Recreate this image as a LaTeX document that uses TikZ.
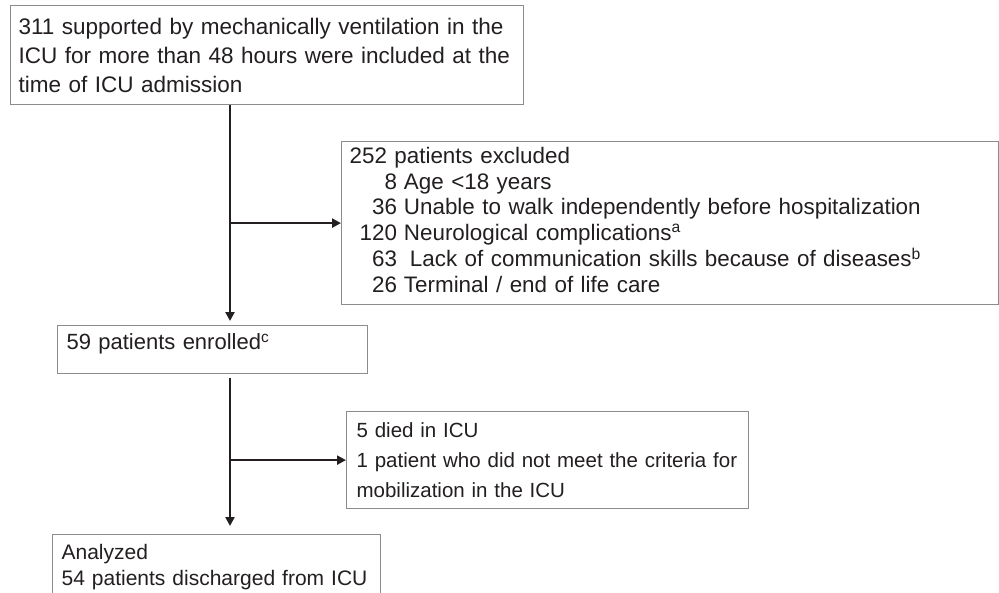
\documentclass[tikz,border=0pt]{standalone}
\usepackage{fontspec}
\setmainfont{Liberation Sans}
\usetikzlibrary{arrows.meta,calc}
\definecolor{ink}{RGB}{35,31,32}
\definecolor{boxgray}{RGB}{140,140,140}
\begin{document}
\begin{tikzpicture}[x=1pt,y=-1pt,
    box/.style={draw=boxgray, line width=1.2pt, fill=white, text=ink, anchor=north west, align=left, inner xsep=8pt, inner ysep=0pt},
    flow/.style={draw=ink, line width=2.6pt, -{Triangle[length=9pt,width=9pt]}}]
	\useasboundingbox (0,0) rectangle (999,592);
	\node[box, text width=497pt, minimum height=99pt, font=\fontsize{22.5}{29}\selectfont] (screened) at (10,5)
		{311 supported by mechanically ventilation in the\\ICU for more than 48 hours were included at the\\time of ICU admission};
	\node[box, text width=641pt, minimum height=163pt, font=\fontsize{22.4}{25.5}\selectfont] (excluded) at (341,141)
		{\begin{tabular}{@{\hspace{10pt}}r@{\hspace{7pt}}l@{}}
			\multicolumn{2}{@{}l@{}}{252 patients excluded}\\
			8 & Age <18 years\\
			36 & Unable to walk independently before hospitalization\\
			120 & Neurological complications\textsuperscript{a}\\
			63 & \hspace{6pt}Lack of communication skills because of diseases\textsuperscript{b}\\
			26 & Terminal / end of life care
		\end{tabular}};
	\node[box, text width=292pt, inner xsep=9pt, inner ysep=9pt, text height=15pt, text depth=15pt, font=\fontsize{22}{26}\selectfont] (enrolled) at (57,325)
		{59 patients enrolled\textsuperscript{c}};
	\node[box, text width=382pt, inner xsep=10pt, minimum height=97pt, font=\fontsize{20.5}{30}\selectfont] (dropped) at (346,411)
		{5 died in ICU\\1 patient who did not meet the criteria for\\mobilization in the ICU};
	\node[box, text width=310pt, inner xsep=9pt, inner ysep=10pt, font=\fontsize{21}{26}\selectfont] (analyzed) at (52,534)
		{Analyzed\\54 patients discharged from ICU};
	% trunk of the flow chart
	\coordinate (trunk) at (230,0);
	\draw[flow, shorten >=4pt] (screened.south -| trunk) -- (enrolled.north -| trunk);
	\draw[flow] (excluded.west -| trunk) -- (excluded.west);
	\draw[flow, shorten <=4pt, shorten >=8pt] (enrolled.south -| trunk) -- (analyzed.north -| trunk);
	\draw[flow] (dropped.west -| trunk) -- (dropped.west);
\end{tikzpicture}
\end{document}
